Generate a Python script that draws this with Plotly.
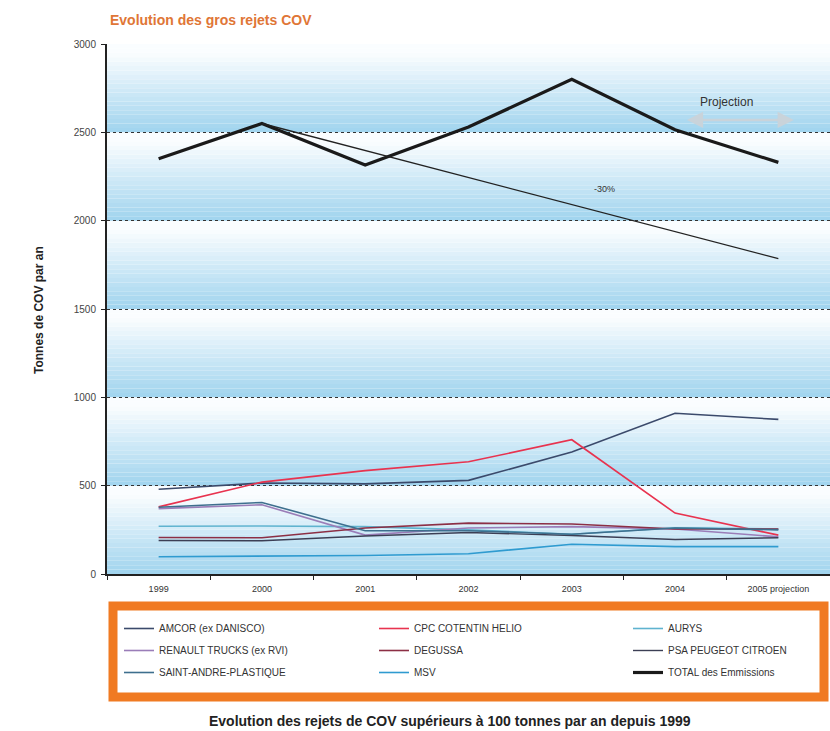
import plotly.graph_objects as go

years = ["1999", "2000", "2001", "2002", "2003", "2004", "2005 projection"]

amcor = [480, 515, 510, 530, 690, 910, 875]
cpc = [380, 520, 585, 635, 760, 345, 220]
aurys = [270, 272, 268, 250, 225, 262, 255]
renault = [370, 392, 220, 260, 268, 255, 210]
degussa = [207, 205, 260, 288, 283, 255, 255]
psa = [190, 188, 215, 235, 218, 195, 205]
saint_andre = [378, 405, 245, 245, 225, 260, 250]
msv = [98, 100, 105, 115, 168, 155, 155]
total = [2350, 2550, 2315, 2530, 2800, 2515, 2330]

objective_x = ["2000", "2005 projection"]
objective_y = [2550, 1785]

# name, values, colour, width, legend column
series = [
    ("AMCOR (ex DANISCO)", amcor, "#3b4a6b", 1.6, "legend"),
    ("CPC COTENTIN HELIO", cpc, "#e8334f", 1.6, "legend2"),
    ("AURYS", aurys, "#5fb3cf", 1.6, "legend3"),
    ("RENAULT TRUCKS (ex RVI)", renault, "#9a7db8", 1.6, "legend"),
    ("DEGUSSA", degussa, "#8c2f45", 1.6, "legend2"),
    ("PSA PEUGEOT CITROEN", psa, "#3c3f55", 1.4, "legend3"),
    ("SAINT-ANDRE-PLASTIQUE", saint_andre, "#3e6f8e", 1.6, "legend"),
    ("MSV", msv, "#2f9bd0", 1.6, "legend2"),
    ("TOTAL des Emmissions", total, "#1a1a1a", 3.2, "legend3"),
]

FONT = "Liberation Sans, Arial, sans-serif"
L, T, W, H = 107, 44, 723, 530


def px(x):
    return (x - L) / W


def py(y):
    return (T + H - y) / H


fig = go.Figure()
for name, vals, color, w, leg in series:
    fig.add_trace(go.Scatter(x=years, y=vals, mode="lines", name=name,
                             legend=leg, legendgroup=name,
                             line=dict(color=color, width=w)))

fig.add_trace(go.Scatter(x=objective_x, y=objective_y, mode="lines",
                         line=dict(color="#222222", width=1.3),
                         showlegend=False))

# background bands: white at top of each 500 band fading to light blue at bottom
shapes = []
n = 20
top_rgb = (250, 253, 255)
bot_rgb = (162, 213, 239)
for b in range(6):
    lo = b * 500
    for i in range(n):
        t = min(1.0, (i / (n - 1)) * 1.1)
        r = int(bot_rgb[0] + (top_rgb[0] - bot_rgb[0]) * t)
        g = int(bot_rgb[1] + (top_rgb[1] - bot_rgb[1]) * t)
        bl = int(bot_rgb[2] + (top_rgb[2] - bot_rgb[2]) * t)
        shapes.append(dict(type="rect", xref="paper", yref="y", x0=0, x1=1,
                           y0=lo + 500 * i / n, y1=lo + 500 * (i + 1) / n,
                           fillcolor=f"rgb({r},{g},{bl})", line=dict(width=0),
                           layer="below"))

# legend frame
shapes.append(dict(type="rect", xref="paper", yref="paper",
                   x0=px(113), x1=px(824), y0=py(697), y1=py(606),
                   line=dict(color="#f07a22", width=9), fillcolor="white",
                   layer="below"))

legend_common = dict(orientation="v", xref="container", yref="container",
                     xanchor="left", yanchor="top", bgcolor="rgba(0,0,0,0)",
                     font=dict(size=10, color="#333333", family=FONT),
                     tracegroupgap=3, traceorder="grouped")

fig.update_layout(
    width=830, height=731,
    margin=dict(l=L, r=0, t=T, b=731 - T - H, autoexpand=False),
    paper_bgcolor="white", plot_bgcolor="white",
    font=dict(family=FONT, size=10, color="#333333"),
    shapes=shapes,
    showlegend=True,
    legend=dict(x=119 / 830, y=1 - 614 / 731, **legend_common),
    legend2=dict(x=374 / 830, y=1 - 614 / 731, **legend_common),
    legend3=dict(x=628 / 830, y=1 - 614 / 731, **legend_common),
    xaxis=dict(type="category", range=[-0.5, 6.5], tickson="boundaries",
               ticks="outside", ticklen=4, tickcolor="#222", showline=True,
               linecolor="#222", linewidth=2, showgrid=False,
               ticklabelstandoff=5, automargin=False,
               tickfont=dict(size=9, color="#333"), fixedrange=True),
    yaxis=dict(range=[0, 3000], dtick=500, showline=True, linecolor="#222",
               linewidth=2, ticks="outside", ticklen=4, tickcolor="#222",
               showgrid=True, gridcolor="#333", griddash="dot", gridwidth=1.3,
               zeroline=False, tickfont=dict(size=10, color="#444"),
               ticklabelstandoff=3, automargin=False, fixedrange=True),
    annotations=[
        dict(text="<b>Evolution des gros rejets COV</b>", xref="paper",
             yref="paper", x=px(108), y=py(20), xanchor="left",
             yanchor="middle", showarrow=False,
             font=dict(size=14, color="#e07636", family=FONT)),
        dict(text="<b>Tonnes de COV par an</b>", xref="paper",
             yref="paper", x=px(30), y=py(310), textangle=-90,
             showarrow=False, font=dict(size=12, color="#222", family=FONT)),
        dict(text="<b>Evolution des rejets de COV supérieurs à 100 tonnes par an depuis 1999</b>",
             xref="paper", yref="paper", x=px(450), y=py(721),
             xanchor="center", yanchor="middle", showarrow=False,
             font=dict(size=14, color="#222", family=FONT)),
        dict(text="Projection", xref="x", yref="y", x=5.5, y=2670,
             showarrow=False, font=dict(size=12, color="#333", family=FONT)),
        dict(text="-30%", xref="x", yref="y", x=4.32, y=2180,
             showarrow=False, font=dict(size=9, color="#333", family=FONT)),
        dict(text="", xref="x", yref="y", axref="x", ayref="y",
             x=6.15, y=2570, ax=5.1, ay=2570, showarrow=True,
             arrowside="end+start", arrowhead=2, arrowsize=1.3,
             arrowwidth=2.5, arrowcolor="#c9d3da"),
    ],
)

fig.write_html("out.html")
